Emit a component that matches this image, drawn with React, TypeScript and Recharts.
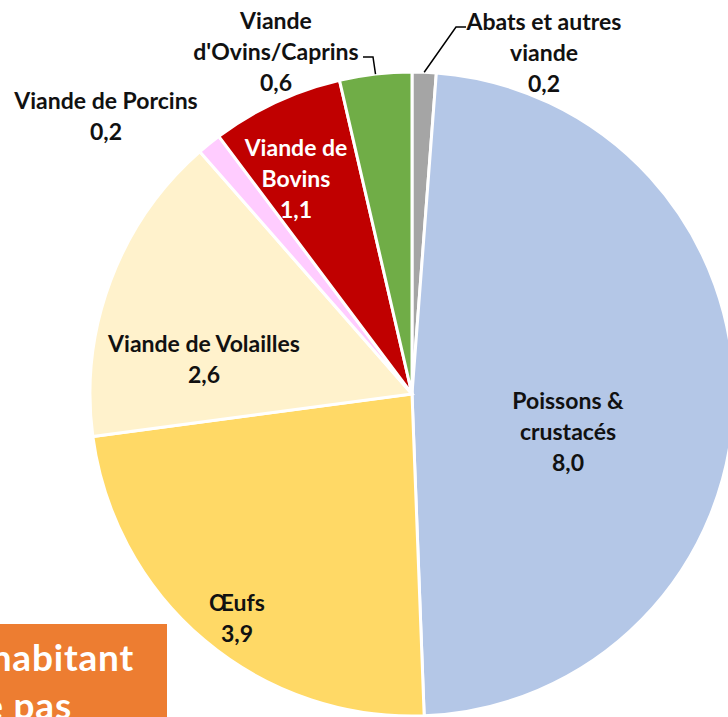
import React from 'react';
import { PieChart, Pie, Cell } from 'recharts';

const categories = [
  'Abats et autres viande',
  'Poissons & crustacés',
  'Œufs',
  'Viande de Volailles',
  'Viande de Porcins',
  'Viande de Bovins',
  "Viande d'Ovins/Caprins",
];
const values = [0.2, 8.0, 3.9, 2.6, 0.2, 1.1, 0.6];
const labelLines = [
  ['Abats et autres', 'viande'],
  ['Poissons &', 'crustacés'],
  ['Œufs'],
  ['Viande de Volailles'],
  ['Viande de Porcins'],
  ['Viande de', 'Bovins'],
  ['Viande', "d'Ovins/Caprins"],
];

const colors = ['#A5A5A5', '#B4C7E7', '#FFD966', '#FFF2CC', '#FFCCFF', '#C00000', '#70AD47'];
const textColors = ['#111', '#111', '#111', '#111', '#111', '#fff', '#111'];

// label placement relative to pie centre (first line), plus optional leader line
const labelPos: { dx: number; dy: number; leader?: { ex: number; ey: number; hx: number } }[] = [
  { dx: 132, dy: -373, leader: { ex: 44, ey: -367, hx: 54 } },
  { dx: 156, dy: 6 },
  { dx: -175, dy: 208 },
  { dx: -208, dy: -51 },
  { dx: -306, dy: -294 },
  { dx: -116, dy: -247 },
  { dx: -136, dy: -374, leader: { ex: -39, ey: -337, hx: -49 } },
];

const data = categories.map((name, i) => ({ name, value: values[i] }));

const RAD = Math.PI / 180;
const fmt = (v: number) => v.toFixed(1).replace('.', ',');

const renderLabel = (props: any) => {
  const { cx, cy, midAngle, outerRadius, index } = props;
  const pos = labelPos[index];
  const x = cx + pos.dx;
  const y = cy + pos.dy;
  const lines = [...labelLines[index], fmt(values[index])];
  let leader = null;
  if (pos.leader) {
    const sx = cx + outerRadius * Math.cos(-midAngle * RAD);
    const sy = cy + outerRadius * Math.sin(-midAngle * RAD);
    const l = pos.leader;
    leader = (
      <polyline
        points={`${sx},${sy} ${cx + l.ex},${cy + l.ey} ${cx + l.hx},${cy + l.ey}`}
        fill="none"
        stroke="#000"
        strokeWidth={1.5}
      />
    );
  }
  return (
    <g key={`lbl-${index}`}>
      {leader}
      <text
        x={x}
        y={y}
        textAnchor="middle"
        fill={textColors[index]}
        fontFamily="Lato, sans-serif"
        fontWeight="bold"
        fontSize={23}
      >
        {lines.map((t, j) => (
          <tspan key={j} x={x} y={y + j * 31} dominantBaseline="central">
            {t}
          </tspan>
        ))}
      </text>
    </g>
  );
};

const App: React.FC = () => {
  return (
    <div style={{ position: 'absolute', left: 0, top: 0, width: 728, height: 717, overflow: 'hidden', background: '#fff' }}>
      <PieChart width={728} height={717} margin={{ top: 0, right: 0, bottom: 0, left: 0 }}>
        <Pie
          data={data}
          dataKey="value"
          nameKey="name"
          cx={412}
          cy={394}
          outerRadius={322}
          startAngle={90}
          endAngle={-270}
          stroke="#fff"
          strokeWidth={3}
          label={renderLabel}
          labelLine={false}
          isAnimationActive={false}
        >
          {data.map((d, i) => (
            <Cell key={d.name} fill={colors[i]} />
          ))}
        </Pie>
      </PieChart>
      <div
        style={{
          position: 'absolute',
          left: 0,
          top: 624,
          width: 167,
          height: 93,
          background: '#ED7D31',
          overflow: 'hidden',
          fontFamily: 'Lato, sans-serif',
          fontWeight: 'bold',
          color: '#fff',
          fontSize: 37,
          letterSpacing: 0.8,
          whiteSpace: 'nowrap',
        }}
      >
        <div style={{ position: 'absolute', right: 33, top: 11, lineHeight: '44px' }}>habitant</div>
        <div style={{ position: 'absolute', right: 95, top: 59, lineHeight: '44px' }}>ne pas</div>
      </div>
    </div>
  );
};

export default App;
